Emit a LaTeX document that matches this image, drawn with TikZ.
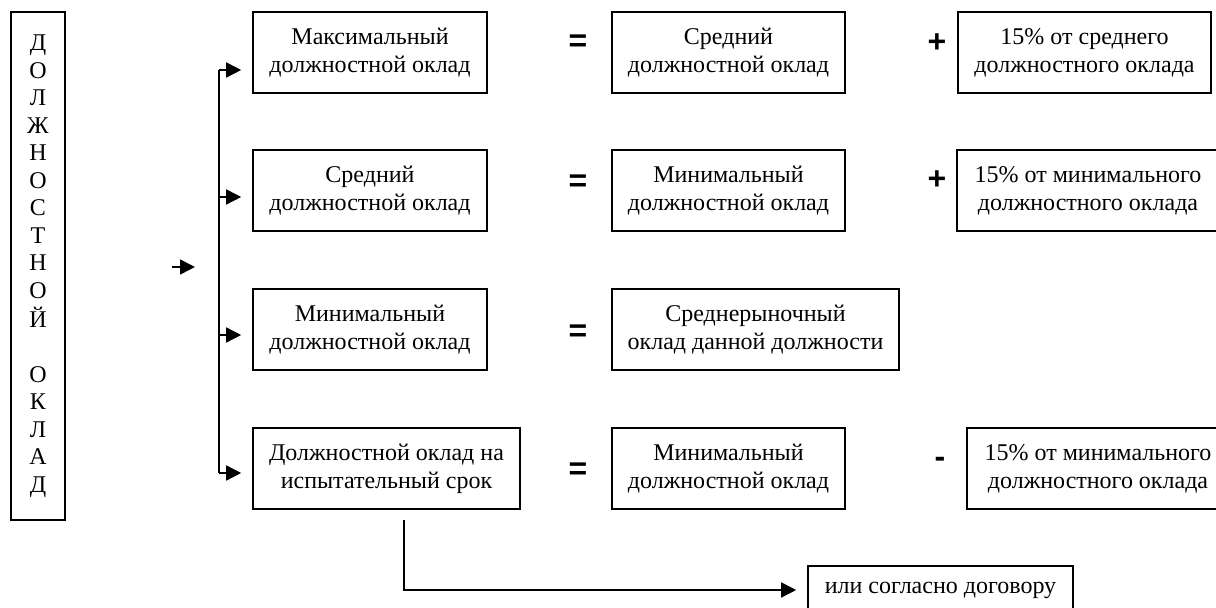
\documentclass[tikz,border=0pt]{standalone}
\usepackage{fontspec}
\setmainfont{Liberation Serif}
\newfontfamily\signfont{Liberation Sans}
\usetikzlibrary{positioning,arrows.meta,calc}

\begin{document}
\begin{tikzpicture}[x=0.5pt, y=-0.5pt, font=\fontsize{12}{14}\selectfont,
  bx/.style={draw, line width=0.8pt, align=center, inner sep=2pt, minimum height=40.5pt},
  sg/.style={font=\signfont\bfseries\fontsize{16}{16}\selectfont, inner sep=0pt},
  tr/.style={-{Triangle[length=7.5pt, width=7.5pt]}, line width=0.8pt},
  ln/.style={line width=0.8pt}]
\useasboundingbox (0,0) rectangle (1216,608);
\clip (0,0) rectangle (1216,608);
\node[bx, minimum width=27pt, minimum height=254pt, font=\fontsize{12}{13.75}\selectfont] (title) at (38,266)
  {\raisebox{2pt}{\begin{tabular}{@{}c@{}}Д\\О\\Л\\Ж\\Н\\О\\С\\Т\\Н\\О\\Й\\[13.75pt]О\\К\\Л\\А\\Д\end{tabular}}};
\node[bx, minimum width=117pt] (maxo) at (370,52.5) {Максимальный\\должностной оклад};
\node[bx, minimum width=117pt] (sred) at (370,190.5) {Средний\\должностной оклад};
\node[bx, minimum width=117pt] (mino) at (370,329.5) {Минимальный\\должностной оклад};
\node[bx, minimum width=133.5pt] (trial) at (386.5,468.5) {Должностной оклад на\\испытательный срок};
\node[bx, minimum width=116.5pt] (sred2) at (728.5,52.5) {Средний\\должностной оклад};
\node[bx, minimum width=116.5pt] (mino2) at (728.5,190.5) {Минимальный\\должностной оклад};
\node[bx, minimum width=143.5pt] (rynok) at (755.5,329.5) {Среднерыночный\\оклад данной должности};
\node[bx, minimum width=116.5pt] (mino3) at (728.5,468.5) {Минимальный\\должностной оклад};
\node[bx, minimum width=126.5pt] (pct1) at (1084.5,52.5) {15\% от среднего\\должностного оклада};
\node[bx, minimum width=131pt] (pct2) at (1088,190.5) {15\% от минимального\\должностного оклада};
\node[bx, minimum width=131pt] (pct3) at (1098,468.5) {15\% от минимального\\должностного оклада};
\node[bx, minimum width=132.5pt, minimum height=24pt] (dogovor) at (940.5,590) {или согласно договору};
\node[sg] (eq1) at (578,43) {=};
\node[sg] (eq2) at (578,183) {=};
\node[sg] (eq3) at (578,333) {=};
\node[sg] (eq4) at (578,471) {=};
\node[sg] (pl1) at (937,43) {+};
\node[sg] (pl2) at (937,180) {+};
\node[sg] (mi1) at (940,462) {-};
\coordinate (in1) at (172,267);
\coordinate (in2) at (195,267);
\draw[tr] (in1) -- (in2);
\coordinate (b1) at (219,70);
\coordinate (b2) at (219,197);
\coordinate (b3) at (219,335);
\coordinate (b4) at (219,473);
\draw[ln] (b1) -- (b4);
\draw[tr] (b1) -- ($(b1 -| maxo.west)+(-11,0)$);
\draw[tr] (b2) -- ($(b2 -| sred.west)+(-11,0)$);
\draw[tr] (b3) -- ($(b3 -| mino.west)+(-11,0)$);
\draw[tr] (b4) -- ($(b4 -| trial.west)+(-11,0)$);
\coordinate (tdown) at (404,520);
\draw[tr] (tdown) |- ($(dogovor.west)+(-11,0)$);
\end{tikzpicture}
\end{document}
